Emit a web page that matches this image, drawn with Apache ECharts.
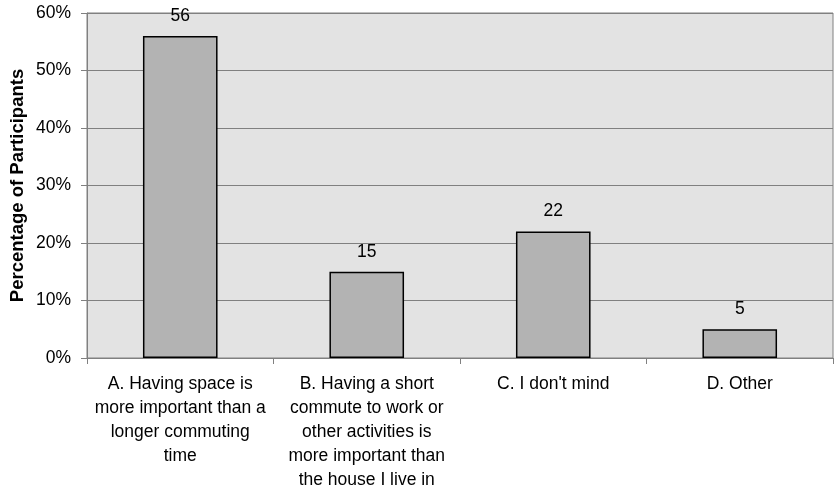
<!DOCTYPE html>
<html>
<head>
<meta charset="utf-8">
<script src="https://cdn.jsdelivr.net/npm/echarts@6/dist/echarts.min.js"></script>
<style>
  html, body { margin: 0; padding: 0; background: #fff; }
  #chart { width: 834px; height: 491px; }
</style>
</head>
<body>
<div id="chart"></div>
<script>
const categories = [
  "A. Having space is\nmore important than a\nlonger commuting\ntime",
  "B. Having a short\ncommute to work or\nother activities is\nmore important than\nthe house I live in",
  "C. I don't mind",
  "D. Other"
];
const values = [56, 15, 22, 5];
const yTicks = [0, 10, 20, 30, 40, 50, 60];

const chart = echarts.init(document.getElementById("chart"));
const font = "'Liberation Sans', Arial, sans-serif";

chart.setOption({
  animation: false,
  textStyle: { fontFamily: font },
  grid: {
    left: 87,
    right: 1,
    top: 13,
    bottom: 133,
    outerBoundsMode: "none",
    show: true,
    backgroundColor: "#e3e3e3",
    borderColor: "#808080",
    borderWidth: 1
  },
  xAxis: {
    type: "category",
    data: categories,
    axisLine: { lineStyle: { color: "#808080", width: 1 } },
    axisTick: { show: true, length: 6, lineStyle: { color: "#808080" } },
    axisLabel: {
      color: "#000",
      fontSize: 17.5,
      fontFamily: font,
      lineHeight: 24,
      margin: 14,
      interval: 0
    }
  },
  yAxis: {
    type: "value",
    min: yTicks[0],
    max: yTicks[yTicks.length - 1],
    interval: 10,
    name: "Percentage of Participants",
    nameLocation: "middle",
    nameGap: 60,
    nameMoveOverlap: false,
    nameTextStyle: { color: "#000", fontSize: 18.5, fontWeight: "bold", fontFamily: font },
    axisLine: { show: true, lineStyle: { color: "#808080" } },
    axisTick: { show: true, length: 6, lineStyle: { color: "#808080" } },
    axisLabel: { color: "#000", fontSize: 17.5, fontFamily: font, margin: 16, formatter: "{value}%" },
    splitLine: { lineStyle: { color: "#808080", width: 1 } }
  },
  series: [{
    type: "bar",
    data: values,
    barWidth: "40%",
    itemStyle: { color: "#b3b3b3", borderColor: "#000", borderWidth: 1.5 },
    label: {
      show: true,
      position: "top",
      distance: 11,
      color: "#000",
      fontSize: 17.5,
      fontFamily: font
    }
  }]
});
</script>
</body>
</html>
